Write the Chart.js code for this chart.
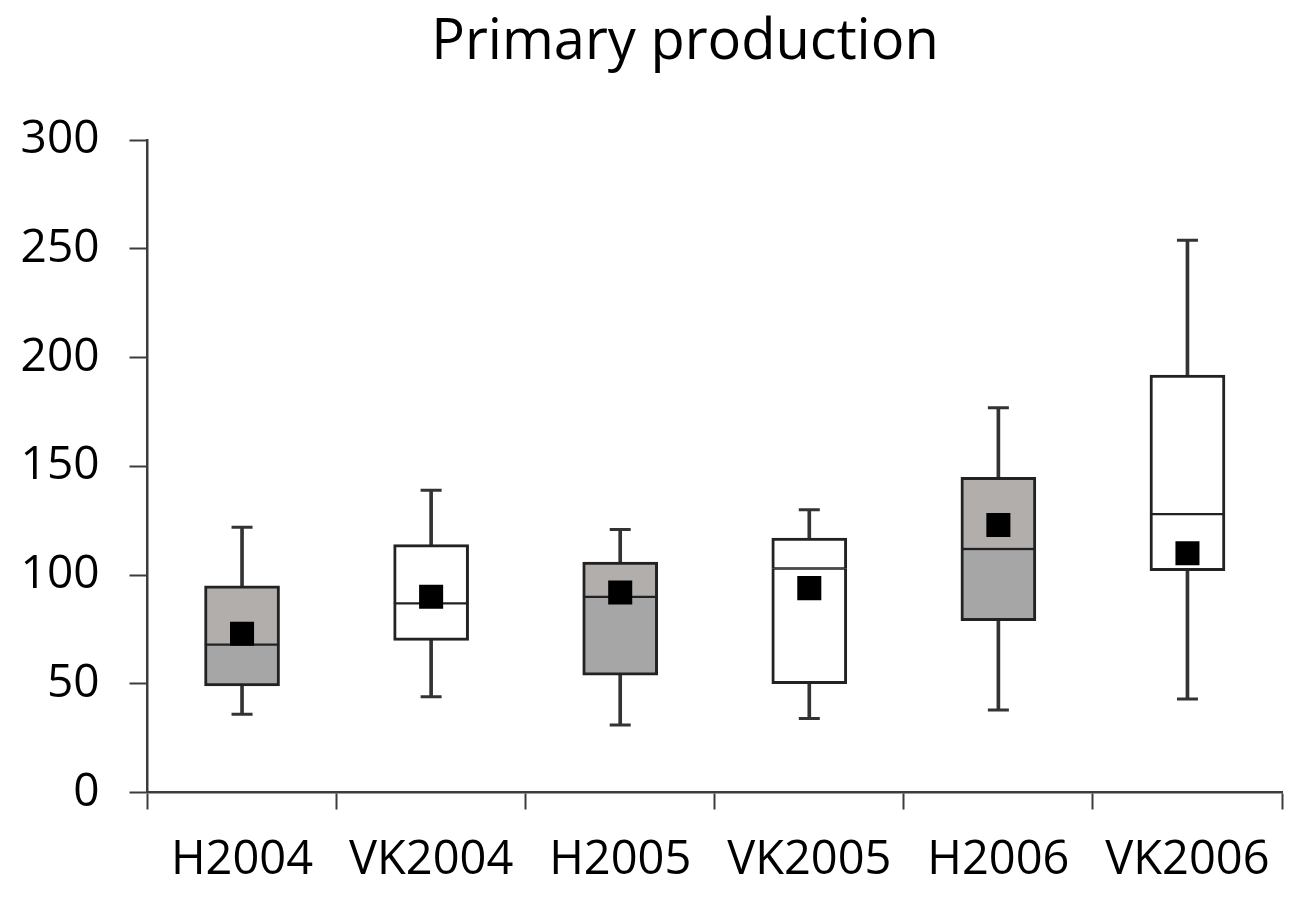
<!DOCTYPE html>
<html>
<head>
<meta charset="utf-8">
<script src="https://cdn.jsdelivr.net/npm/chart.js@4"></script>
<style>
  html, body { margin: 0; padding: 0; background: #fff; }
  #wrap { width: 1301px; height: 898px; position: relative; }
</style>
</head>
<body>
<div id="wrap"><canvas id="ppChart"></canvas></div>
<script>
const categories = ['H2004', 'VK2004', 'H2005', 'VK2005', 'H2006', 'VK2006'];
const minValues = [36, 44, 31, 34, 38, 43];
const q1Values = [49, 70, 54, 50, 79, 102];
const medianValues = [68, 87, 90, 103, 112, 128];
const q3Values = [95, 114, 106, 117, 145, 192];
const maxValues = [122, 139, 121, 130, 177, 254];
const meanValues = [73, 90, 92, 94, 123, 110];
const yTicks = [0, 50, 100, 150, 200, 250, 300];

const lowerFill = categories.map(c => c.startsWith('H') ? '#a6a6a6' : '#ffffff');
const upperFill = categories.map(c => c.startsWith('H') ? '#b2aeac' : '#ffffff');
const lineColor = '#333333';
const axisColor = '#3c3c3c';

// the original title sits a little right of the canvas centre
const shiftTitle = {
  id: 'shiftTitle',
  afterLayout(chart) {
    if (chart.titleBlock) chart.titleBlock.left = 88;
  },
};

const ctx = document.getElementById('ppChart').getContext('2d');

new Chart(ctx, {
  type: 'bar',
  data: {
    labels: categories,
    datasets: [
      {
        label: 'mean',
        type: 'line',
        data: meanValues,
        showLine: false,
        pointStyle: 'rect',
        pointRadius: 17,
        pointHoverRadius: 17,
        pointBackgroundColor: '#000',
        pointBorderWidth: 0,
        order: 0,
      },
      {
        label: 'max cap',
        type: 'line',
        data: maxValues,
        showLine: false,
        pointStyle: 'line',
        pointRadius: 10.5,
        pointBorderColor: lineColor,
        pointBorderWidth: 3,
        order: 1,
      },
      {
        label: 'min cap',
        type: 'line',
        data: minValues,
        showLine: false,
        pointStyle: 'line',
        pointRadius: 10.5,
        pointBorderColor: lineColor,
        pointBorderWidth: 3,
        order: 1,
      },
      {
        label: 'upper box',
        data: categories.map((_, i) => [medianValues[i], q3Values[i]]),
        backgroundColor: upperFill,
        borderColor: '#222',
        borderWidth: { left: 3, right: 3, top: 3, bottom: 1.5 },
        borderSkipped: false,
        barThickness: 75,
        grouped: false,
        order: 2,
      },
      {
        label: 'lower box',
        data: categories.map((_, i) => [q1Values[i], medianValues[i]]),
        backgroundColor: lowerFill,
        borderColor: '#222',
        borderWidth: { left: 3, right: 3, top: 1.5, bottom: 3 },
        borderSkipped: false,
        barThickness: 75,
        grouped: false,
        order: 2,
      },
      {
        label: 'upper whisker',
        data: categories.map((_, i) => [q3Values[i], maxValues[i]]),
        backgroundColor: lineColor,
        borderWidth: 0,
        barThickness: 3,
        grouped: false,
        order: 3,
      },
      {
        label: 'lower whisker',
        data: categories.map((_, i) => [minValues[i], q1Values[i]]),
        backgroundColor: lineColor,
        borderWidth: 0,
        barThickness: 3,
        grouped: false,
        order: 3,
      },
    ],
  },
  options: {
    responsive: true,
    maintainAspectRatio: false,
    animation: false,
    layout: { padding: { left: 0, right: 19, top: 0, bottom: 0 } },
    plugins: {
      legend: { display: false },
      tooltip: { enabled: false },
      title: {
        display: true,
        text: 'Primary production',
        color: '#000',
        font: { family: 'Open Sans', size: 56, weight: 'normal' },
        padding: { top: 9, bottom: 64 },
      },
    },
    scales: {
      x: {
        type: 'category',
        offset: true,
        afterFit: s => { s.height = 105.5; },
        grid: {
          offset: true,
          drawOnChartArea: false,
          tickLength: 17,
          tickColor: axisColor,
          tickWidth: 2,
        },
        border: { color: axisColor, width: 2.5 },
        ticks: {
          color: '#000',
          font: { family: 'Open Sans', size: 47 },
          padding: 23,
          maxRotation: 0,
        },
      },
      y: {
        min: 0,
        max: 300,
        afterFit: s => { s.width = 147.5; },
        afterBuildTicks: s => { s.ticks = yTicks.map(v => ({ value: v })); },
        grid: {
          drawOnChartArea: false,
          tickLength: 18,
          tickColor: axisColor,
          tickWidth: 2,
        },
        border: { color: axisColor, width: 2.5 },
        ticks: {
          color: '#000',
          font: { family: 'Open Sans', size: 46 },
          padding: 30,
        },
      },
    },
  },
  plugins: [shiftTitle],
});
</script>
</body>
</html>
